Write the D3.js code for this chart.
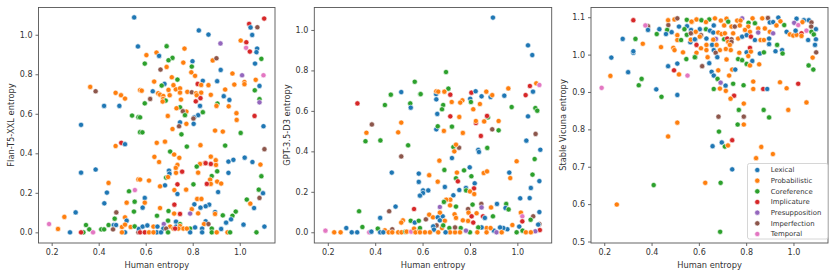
<!DOCTYPE html>
<html>
<head>
<meta charset="utf-8">
<script src="https://cdn.jsdelivr.net/npm/d3@7"></script>
<style>
html, body { margin: 0; padding: 0; background: #fff; }
svg { display: block; }
text { font-family: "DejaVu Sans", sans-serif; fill: #333; }
</style>
</head>
<body>
<div id="chart"></div>
<script>
const categories = ['Lexical', 'Probabilistic', 'Coreference', 'Implicature', 'Presupposition', 'Imperfection', 'Temporal'];
const colors = ['#1f77b4', '#ff7f0e', '#2ca02c', '#d62728', '#9467bd', '#8c564b', '#e377c2'];
const xTicks = [0.2, 0.4, 0.6, 0.8, 1.0];

// [human entropy, model entropy, category index]
const flanPoints = [
[.551,1.088,0],[.567,.941,0],[.364,.736,1],[.387,.714,5],[.472,.706,1],[.495,.694,1],[.512,.677,1],[.423,.640,0],[.488,.640,0],[.542,.591,2],[.569,.583,2],[.325,.544,0],[.576,.507,2],[.576,.72,1],
[1.104,1.082,3],[1.040,1.055,3],[1.075,1.038,5],[1.046,1.037,0],[.826,1.022,0],[.867,1.001,0],[1.053,.999,0],[1.004,.971,1],[1.028,.962,3],[.918,.956,4],[.689,.942,2],[.765,.930,1],[1.027,.934,6],[1.074,.930,0],[1.071,.912,0],[1.043,.915,3],[.646,.910,1],[.657,.893,0],[.603,.897,1],[.714,.883,2],[.697,.871,2],[.799,.866,0],[.885,.870,1],[.901,.881,5],[.760,.859,1],[.596,.854,2],[1.092,.878,2],[1.065,.854,0],[.796,.839,2],[.689,.837,1],[.663,.824,5],[.919,.822,0],[.794,.810,1],[.810,.792,1],[.969,.804,1],[1.010,.795,4],[1.101,.795,6],[.711,.785,1],[.735,.773,2],[.636,.763,1],[.843,.767,0],[.904,.765,0],[.821,.751,3],[1.020,.761,1],[1.020,.750,1],[1.068,.772,1],[.977,.748,1],[1.084,.741,0],[.680,.751,0],[.668,.743,2],
[.653,.704,1],[.583,.717,1],[.630,.714,0],[.697,.721,1],[.728,.724,1],[.718,.745,1],[.746,.729,1],[.746,.707,1],[.777,.711,1],[.796,.709,5],[.814,.704,1],[.836,.707,1],[.836,.746,1],[.867,.745,1],[.938,.723,1],[1.064,.719,2],[.877,.696,1],[.817,.694,1],[.833,.679,3],[.813,.663,3],[.661,.697,1],[.675,.690,1],[.702,.694,1],[.619,.675,5],[.674,.675,1],[.685,.667,2],[.672,.662,1],[.596,.653,2],[.750,.672,1],[.932,.689,0],[.956,.670,0],[1.084,.674,2],[1.084,.658,4],[.905,.652,2],[.901,.640,1],[.831,.640,0],[.953,.638,1],[.746,.633,2],[.731,.628,1],[.773,.611,1],[.758,.613,5],[.843,.608,2],[.767,.593,2],[.823,.593,0],[.806,.582,0],[.803,.576,5],[.694,.589,1],[.986,.603,1],[1.063,.589,3],[.987,.569,1],[.746,.557,0],[.773,.549,1],[.804,.549,0],[.742,.537,5],[.714,.523,1],[1.101,.537,0],[.895,.515,1],[.928,.510,1],[1.004,.503,2],[.586,.506,2],[.752,.496,2],[.576,.582,2],
[.496,.453,3],[.512,.446,0],[.472,.437,1],[.325,.302,0],[.387,.318,0],[.442,.250,1],[.435,.201,0],[.529,.208,2],[.554,.214,6],[.569,.268,1],[.424,.147,0],[.519,.150,1],[.553,.155,2],[.302,.101,0],[.254,.078,1],[.550,.105,2],[.475,.101,5],[.468,.069,2],[.512,.076,1],[.519,.059,0],[.189,.042,6],[.227,.017,1],[.278,0,0],[.335,0,2],[.325,0,3],[.346,.037,2],[.360,.015,2],[.376,0,6],[.411,.015,2],[.423,.015,2],[.442,.037,2],[.464,.037,0],[.474,.037,0],[.461,.015,5],[.499,.027,1],[.512,.039,1],[.512,0,0],[.499,0,1],[.536,.027,1],[.553,.030,2],[.569,0,5],[.571,.017,0],
[.647,.453,1],[.682,.459,1],[.775,.434,2],[.833,.441,1],[.938,.439,2],[1.105,.421,5],[.704,.409,2],[.721,.394,1],[.637,.382,1],[.743,.377,1],[.657,.356,1],[.735,.341,1],[.728,.326,1],[.877,.383,1],[.898,.365,1],[.899,.341,1],[.851,.351,1],[.831,.346,1],[.817,.333,2],[.855,.350,3],[.877,.346,3],[.904,.309,2],[.823,.302,1],[.755,.307,3],[.699,.312,0],[.701,.297,0],[.729,.301,1],[.952,.358,0],[.973,.367,0],[1.021,.378,0],[1.054,.356,0],[1.088,.343,1],[.952,.301,0],[1.092,.284,2],[.881,.285,2],[.687,.277,2],[.695,.280,1],[.576,.267,1],[.614,.262,1],[.874,.267,1],[.904,.257,1],[.921,.247,1],[.877,.245,1],[.860,.245,3],[.735,.243,3],[.803,.243,2],[.682,.238,0],[.661,.233,1],[.722,.214,1],[.735,.194,0],[.772,.216,1],[.908,.204,0],[1.081,.216,2],[1.099,.198,0],[1.084,.174,5],[1.030,.166,2],[1.045,.145,1],[1.061,.123,0],[.819,.169,1],[.837,.169,1],[.596,.174,0],[.596,.150,1],[.587,.125,0],[.807,.142,0],[.870,.140,0],[.855,.132,0],[.833,.125,0],[.796,.117,1],[.722,.140,3],[.661,.123,1],[.697,.108,2],[.721,.095,1],[.746,.093,3],[.789,.095,4],[.823,.096,1],[.895,.103,0],[.895,.093,1],[.983,.105,2],[.969,.084,2],[.928,.086,2],[.963,.066,0],[.942,.049,0],[.648,.084,2],[.695,.059,2],[.729,.054,0],[.855,.056,0],[.848,.042,1],[.867,.042,5],[.677,.042,4],[.746,.042,2],[1.016,.039,0],[1.105,.029,0],[.921,.017,0],[.587,.029,0],[.607,.035,0],[.633,.029,1],[.650,.029,0],[.675,.019,0],[.704,.029,1],[.729,.029,0],[.746,.032,1],[.718,.019,1],[.687,.019,5],[.760,.019,1],[.789,.019,2],[.810,.025,0],[.840,.019,0],[.881,.019,2],[.576,0,3],[.596,0,3],[.614,0,1],[.647,0,0],[.665,0,0],[.695,0,2],[.789,0,0],[.840,0,0],[.881,0,2],[.902,0,1],[.948,0,1],[.959,0,2],[1.071,0,2],[.739,.019,1],[.633,0,1],[.725,.019,3],[.775,.019,1]
];

const gptPoints = [
[.325,.637,3],[.386,.533,5],[.363,.492,1],[.510,.693,0],[.466,.680,2],[.441,.629,2],[.548,.637,2],[.550,.616,0],[.567,.744,2],[.590,.683,2],[.510,.542,1],[.497,.494,1],
[.897,1.061,0],[1.045,.924,0],[1.063,.876,0],[.699,.792,2],[1.080,.736,1],[1.093,.728,6],[1.053,.723,3],[.962,.711,1],[.709,.710,2],[.657,.683,0],[.658,.697,1],[.666,.695,1],[.692,.695,1],[.592,.683,2],[.717,.680,3],[.806,.690,3],[.824,.697,0],[.869,.695,1],[.849,.672,0],[.887,.669,0],[.894,.678,1],[.945,.675,0],[1.035,.678,3],[1.066,.695,0],[.658,.657,0],[.723,.644,1],[.768,.652,1],[.759,.641,1],[.801,.660,0],[.804,.644,2],[.842,.634,1],[.687,.629,2],[.682,.608,2],[.814,.608,1],[.976,.619,2],[1.076,.614,2],[1.084,.601,2],[.662,.585,0],[.717,.573,3],[.755,.570,1],[.876,.568,2],[.872,.575,3],[1.045,.573,0],[.825,.540,3],[.825,.550,1],[.860,.548,1],[.921,.550,1],[.658,.509,0],[.664,.524,2],[.724,.522,2],[.690,.501,1],[.894,.509,5],[.921,.504,2],[.770,.491,1],[1.077,.486,5],[.846,.476,3],
[.359,.450,2],[.422,.454,2],[.539,.430,2],[.510,.375,5],[.470,.295,0],[.584,.290,0],[.584,.249,0],[.590,.183,0],[.332,.104,2],[.459,.104,5],[.486,.127,0],[.564,.115,3],[.421,.071,0],[.550,.057,2],[.567,.048,0],[.584,.057,2],[.517,.059,1],[.510,.048,1],[.278,.021,0],[.346,.026,2],[.190,.008,6],[.227,0,1],[.254,0,1],[.301,0,0],[.324,0,0],[.375,0,6],[.384,.003,0],[.411,.018,2],[.441,.010,1],[.421,0,0],[.434,0,0],[.472,.015,5],[.457,0,1],[.472,0,1],[.497,0,1],[.511,0,1],[.528,.003,2],[.533,.003,1],[.552,.003,6],[.564,.018,1],[.570,0,1],[.587,.011,1],
[.730,.421,2],[.754,.418,5],[.741,.433,1],[.734,.400,1],[.835,.407,0],[.838,.397,0],[.873,.417,2],[.724,.367,0],[.671,.354,1],[.997,.351,1],[1.073,.362,2],[1.097,.408,0],[1.038,.453,0],[.692,.308,2],[.745,.295,1],[.775,.306,2],[.799,.321,0],[.858,.293,1],[.872,.301,1],[.966,.295,0],[.970,.268,1],[1.064,.285,2],[1.093,.253,0],[.628,.282,1],[.741,.267,2],[.749,.252,3],[.806,.277,2],[.664,.250,1],[.820,.242,0],[.694,.224,0],[.817,.217,3],[.783,.219,0],[.784,.207,2],[.755,.209,0],[1.057,.219,0],[.800,.202,1],[.818,.189,1],[.602,.207,0],[.624,.207,0],[.602,.194,0],[.589,.181,0],[.730,.183,0],[.717,.161,1],[.700,.161,1],[.690,.150,2],[.716,.133,1],[.741,.127,2],[.673,.125,4],[.811,.137,2],[.848,.140,5],[.849,.123,4],[.792,.115,5],[.889,.123,1],[.914,.140,0],[.953,.140,2],[.950,.120,0],[.963,.113,2],[1.015,.097,1],[1.012,.168,0],[1.052,.169,0],[1.093,.100,0],[.828,.094,1],[.794,.097,1],[.807,.079,3],[.855,.079,3],[.863,.071,0],[.897,.079,2],[.735,.089,1],[.741,.071,1],[.685,.079,0],[.673,.097,1],[.628,.087,1],[.644,.074,1],[.664,.074,0],[.673,.059,0],[.694,.057,1],[.614,.064,5],[.770,.059,1],[.792,.056,1],[.814,.048,3],[1.021,.079,6],[1.021,.054,3],[1.067,.079,5],[1.056,.062,2],[1.093,.041,5],[1.088,.038,0],[1.095,.011,3],[1.076,.005,4],[1.008,.028,0],[1.022,.008,2],[.997,0,2],[.979,.036,1],[1.036,0,1],[1.057,0,1],[.958,.015,0],[.941,.021,0],[.927,.024,0],[.901,.008,0],[.912,0,4],[.870,.021,1],[.887,.021,1],[.849,.024,0],[.835,.024,2],[.870,0,1],[.831,0,1],[.800,0,2],[.783,.008,4],[.761,.021,2],[.758,0,1],[.737,0,1],[.737,.024,5],[.713,.021,2],[.716,0,1],[.697,0,0],[.682,.021,1],[.659,.034,5],[.645,.029,0],[.648,.013,0],[.666,0,1],[.631,0,1],[.610,0,1],[.589,.021,2],[.589,0,1],[.687,.034,2],[.934,0,1]
];

const vicunaPoints = [
[.323,1.092,3],[.385,1.076,5],[.374,1.078,6],[.385,1.066,0],[.433,1.068,0],[.471,1.079,5],[.470,1.092,1],[.497,1.094,1],[.509,1.097,5],[.549,1.093,2],[.571,1.088,1],[.516,1.075,0],[.550,1.076,0],[.539,1.068,2],[.466,1.066,2],[.485,1.060,0],[.461,1.055,0],[.422,1.055,2],[.509,1.052,1],[.549,1.053,2],[.567,1.066,0],[.567,1.057,5],[.278,1.042,0],[.332,1.042,2],[.509,1.039,1],[.525,1.039,2],[.564,1.033,0],[.566,1.040,1],[.584,1.040,0],[.363,1.029,1],[.440,1.020,1],[.492,1.018,1],[.497,1.012,1],[.533,1.006,1],[.323,1.005,0],[.323,1.009,0],[.230,.992,0],[.547,.988,2],[.584,.993,2],[.470,.969,0],[.509,.976,0],[.301,.953,0],[.495,.958,3],[.516,.947,1],[.552,.944,6],[.226,.943,1],[.358,.935,2],[.346,.918,2],[.189,.911,6],[.420,.907,0],[.442,.887,2],[.509,.892,0],[.509,.818,1],[.470,.781,1],
[.590,1.094,1],[.611,1.092,2],[.644,1.094,2],[.668,1.097,1],[.717,1.096,1],[.783,1.097,4],[.827,1.097,1],[.868,1.097,1],[.892,1.098,5],[.936,1.099,0],[1.013,1.096,0],[1.044,1.092,0],[1.065,1.092,0],
[.569,1.088,1],[.630,1.087,1],[.693,1.091,1],[.724,1.088,2],[.762,1.091,1],[.776,1.091,1],[.810,1.085,2],[.837,1.084,2],[.900,1.086,0],[.914,1.087,0],[.945,1.089,1],[1.003,1.085,4],[1.038,1.087,1],[1.076,1.086,5],
[.604,1.068,0],[.630,1.068,2],[.663,1.078,0],[.707,1.078,1],[.738,1.075,1],[.752,1.075,5],[.773,1.078,1],[.809,1.075,1],[.851,1.070,1],[.879,1.070,1],[.961,1.079,2],[.928,1.078,1],[1.020,1.079,6],[1.075,1.075,5],[1.095,1.068,0],
[.566,1.057,5],[.587,1.061,1],[.609,1.052,5],[.647,1.064,0],[.661,1.059,0],[.682,1.059,1],[.696,1.055,1],[.710,1.057,1],[.745,1.057,1],[.795,1.066,1],[.816,1.061,1],[.851,1.059,4],[.900,1.061,1],[.914,1.057,4],[.971,1.061,0],[.985,1.054,1],[.999,1.051,1],[1.013,1.053,1],[1.055,1.064,6],[1.034,1.057,3],[1.076,1.061,2],[1.086,1.054,2],[1.009,1.064,0],[1.034,1.050,1],
[.583,1.041,0],[.604,1.048,1],[.632,1.043,0],[.672,1.042,4],[.661,1.040,1],[.707,1.041,2],[.720,1.043,3],[.738,1.041,5],[.766,1.043,1],[.783,1.048,0],[.802,1.052,0],[.820,1.048,3],[.837,1.039,0],[.861,1.039,1],[.875,1.039,1],[.897,1.043,0],[1.062,1.039,0],[1.095,1.041,0],
[.590,1.026,3],[.632,1.026,1],[.609,1.017,1],[.656,1.026,0],[.675,1.026,1],[.724,1.034,1],[.738,1.034,5],[.731,1.026,1],[.897,1.028,0],[.931,1.026,2],[1.091,1.026,0],
[.632,1.012,1],[.663,1.012,0],[.689,1.012,1],[.714,1.015,1],[.735,1.012,1],[.816,1.018,3],[.771,1.005,1],[.802,1.006,0],[.590,1.005,1],[.671,1.005,5],[.858,1.003,0],[.875,1.006,2],[.924,1.009,0],[.952,1.012,0],[.954,1.003,2],[.820,1.008,1],
[.583,.993,2],[.637,.993,1],[.678,.993,0],[.717,.987,1],[.809,.996,1],[.766,.988,2],[.783,.985,2],[.826,.983,0],[.802,.975,2],[.816,.971,1],[.855,.974,1],[1.096,1.006,5],[1.081,.992,1],[1.064,.971,2],[1.084,.960,2],[.614,.969,5],[.644,.977,0],[.654,.954,0],[.682,.958,1],[.741,.960,1],[.754,.960,0],[.663,.944,0],[.728,.944,1],[.679,.935,2],[.692,.925,4],[.745,.922,2],[.830,.928,1],[.789,.918,2],[.713,.917,0],[.689,.909,1],[.663,.908,2],[.714,.903,1],[.830,.908,1],[.872,.908,3],[.889,.908,0],[.943,.926,1],[.971,.910,1],[1.020,.922,3],[.749,.890,3],[.734,.882,1],[.790,.869,1],[.769,.852,2],[.874,.852,2],[.978,.852,1],[1.055,.872,1],[.683,.834,5],[.790,.834,5],[.897,.832,2],[.764,.813,2],[.790,.813,1],[.685,.794,2],
[.253,.599,1],[.409,.651,2],[.741,.771,3],[.658,.755,0],[.697,.765,0],[.710,.754,2],[.723,.757,1],[.864,.753,1],[.913,.734,1],[.842,.723,1],[.741,.693,0],[.627,.657,1],[.692,.657,2],[.690,.526,2]
];

const svg = d3.select("#chart").append("svg")
    .attr("width", 830)
    .attr("height", 276);

function drawPanel(opts) {
    const x = d3.scaleLinear().domain(opts.xDomain).range([opts.left, opts.right]);
    const y = d3.scaleLinear().domain(opts.yDomain).range([243, 7.5]);
    const g = svg.append("g");

    const xAxis = g.append("g")
        .attr("transform", "translate(0,243)")
        .call(d3.axisBottom(x).tickValues(xTicks).tickFormat(d3.format(".1f")).tickSize(3).tickPadding(3));
    const yAxis = g.append("g")
        .attr("transform", `translate(${opts.left},0)`)
        .call(d3.axisLeft(y).tickValues(opts.yTicks).tickFormat(d3.format(".1f")).tickSize(3).tickPadding(3));

    [xAxis, yAxis].forEach(a => {
        a.selectAll("text").style("font-size", "8px").attr("fill", "#333");
        a.selectAll("line").attr("stroke", "#444").attr("stroke-width", 0.8);
        a.select(".domain").remove();
    });

    g.selectAll("circle")
        .data(opts.points)
        .enter().append("circle")
        .attr("cx", d => x(d[0]))
        .attr("cy", d => y(d[1]))
        .attr("r", 2.6)
        .attr("fill", d => colors[d[2]])
        .attr("stroke", "#fff")
        .attr("stroke-width", 0.6);

    // frame on top of the points
    g.append("rect")
        .attr("x", opts.left)
        .attr("y", 7.5)
        .attr("width", opts.right - opts.left)
        .attr("height", 235.5)
        .attr("fill", "none")
        .attr("stroke", "#555")
        .attr("stroke-width", 0.9);

    g.append("text")
        .attr("x", (opts.left + opts.right) / 2)
        .attr("y", 268)
        .attr("text-anchor", "middle")
        .style("font-size", "8.3px")
        .text("Human entropy");

    g.append("text")
        .attr("transform", `translate(${opts.labelX},125) rotate(-90)`)
        .attr("text-anchor", "middle")
        .style("font-size", "8.3px")
        .text(opts.yLabel);
}

drawPanel({
    left: 38.5, right: 275, xDomain: [0.144, 1.15], yDomain: [-0.054, 1.138],
    yTicks: [0, 0.2, 0.4, 0.6, 0.8, 1.0], points: flanPoints,
    yLabel: "Flan-T5-XXL entropy", labelX: 14
});
drawPanel({
    left: 314.3, right: 551.7, xDomain: [0.143, 1.145], yDomain: [-0.053, 1.111],
    yTicks: [0, 0.2, 0.4, 0.6, 0.8, 1.0], points: gptPoints,
    yLabel: "GPT-3.5-D3 entropy", labelX: 290
});
drawPanel({
    left: 591, right: 828, xDomain: [0.144, 1.146], yDomain: [0.496, 1.126],
    yTicks: [0.5, 0.6, 0.7, 0.8, 0.9, 1.0, 1.1], points: vicunaPoints,
    yLabel: "Stable Vicuna entropy", labelX: 566
});

// Legend
const legend = svg.append("g");
legend.append("rect")
    .attr("x", 747.5)
    .attr("y", 163.5)
    .attr("width", 80.5)
    .attr("height", 75.5)
    .attr("rx", 2)
    .attr("fill", "#fff")
    .attr("fill-opacity", 0.8)
    .attr("stroke", "#ccc")
    .attr("stroke-width", 0.8);

const legendRow = d3.scalePoint().domain(categories).range([170, 234]);
const rows = legend.selectAll(".row")
    .data(categories)
    .enter().append("g")
    .attr("class", "row")
    .attr("transform", d => `translate(0,${legendRow(d)})`);
rows.append("circle")
    .attr("cx", 757.3)
    .attr("r", 2.6)
    .attr("fill", (d, i) => colors[i])
    .attr("stroke", "#fff")
    .attr("stroke-width", 0.6);
rows.append("text")
    .attr("x", 770.7)
    .attr("dy", "0.35em")
    .style("font-size", "6.9px")
    .text(d => d);
</script>
</body>
</html>
